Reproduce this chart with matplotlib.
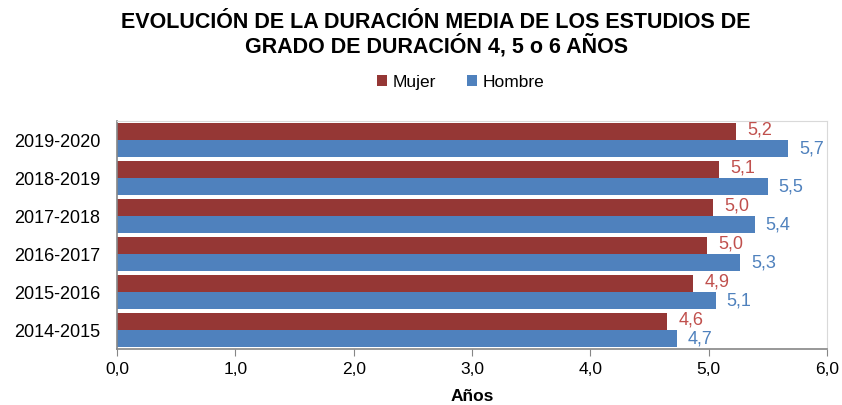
import numpy as np
import matplotlib.pyplot as plt

periodos = ["2014-2015", "2015-2016", "2016-2017", "2017-2018", "2018-2019", "2019-2020"]
mujer = [4.65, 4.87, 4.99, 5.04, 5.09, 5.23]
hombre = [4.73, 5.06, 5.27, 5.39, 5.50, 5.67]
mujer_txt = ["4,6", "4,9", "5,0", "5,0", "5,1", "5,2"]
hombre_txt = ["4,7", "5,1", "5,3", "5,4", "5,5", "5,7"]

plt.rcParams['font.family'] = ['Liberation Sans', 'DejaVu Sans']

fig = plt.figure(figsize=(8.42, 4.05), dpi=100)
ax = fig.add_axes([0.139, 0.138, 0.843, 0.563])

y = np.arange(len(periodos))
h = 0.45
ax.barh(y + h / 2, mujer, height=h, color="#953735", label="Mujer")
ax.barh(y - h / 2, hombre, height=h, color="#4F81BD", label="Hombre")

for i in range(len(periodos)):
    ax.annotate(mujer_txt[i], (mujer[i], y[i] + h / 2), xytext=(8, 1), textcoords="offset points",
                va="center", ha="left", fontsize=13, color="#C0504D")
    ax.annotate(hombre_txt[i], (hombre[i], y[i] - h / 2), xytext=(8, 0), textcoords="offset points",
                va="center", ha="left", fontsize=13, color="#4F81BD")

ax.set_xlim(0, 6)
ax.set_ylim(-0.5, len(periodos) - 0.5)
ax.set_xticks(np.arange(0, 6.1, 1))
ax.set_xticklabels([f"{v:.1f}".replace(".", ",") for v in np.arange(0, 6.1, 1)], fontsize=12.5)
ax.set_yticks(y)
ax.set_yticklabels(periodos, fontsize=13)
ax.tick_params(axis="y", length=0, pad=12)
ax.tick_params(axis="x", length=5, color="#868686", pad=4)

for s in ["left", "bottom"]:
    ax.spines[s].set_color("#868686")
    ax.spines[s].set_linewidth(1.2)
for s in ["top", "right"]:
    ax.spines[s].set_color("#D9D9D9")

ax.set_xlabel("Años", fontsize=12.5, fontweight="bold", labelpad=9)

fig.suptitle("EVOLUCIÓN DE LA DURACIÓN MEDIA DE LOS ESTUDIOS DE\nGRADO DE DURACIÓN 4, 5 o 6 AÑOS",
             fontsize=15.5, fontweight="bold", x=0.518, y=0.97, linespacing=1.05)
fig.legend(loc="center", bbox_to_anchor=(0.547, 0.797), ncol=2, frameon=False, fontsize=12.5,
           handlelength=0.6, handleheight=0.6, handletextpad=0.3, columnspacing=1.8)

plt.savefig("out.png", dpi=100)
